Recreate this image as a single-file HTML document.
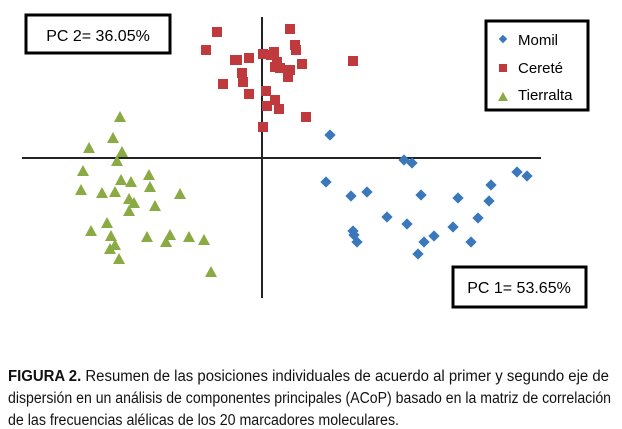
<!DOCTYPE html>
<html><head><meta charset="utf-8"><style>
body{margin:0;background:#fff;}
svg{display:block;font-family:"Liberation Sans",sans-serif;}
</style></head><body>
<svg id="chart" width="622" height="429" viewBox="0 0 622 429">
<line x1="22" y1="158" x2="541" y2="158" stroke="#222" stroke-width="2"/>
<line x1="262" y1="17" x2="262" y2="298" stroke="#222" stroke-width="2"/>
<g id="points"></g>
<g>
<rect x="26" y="15" width="144" height="38" fill="#fff" stroke="#000" stroke-width="3"/>
<text x="98" y="41" font-size="16" text-anchor="middle">PC 2= 36.05%</text></g>
<g>
<rect x="453" y="267" width="133" height="40" fill="#fff" stroke="#000" stroke-width="3"/>
<text x="519" y="293" font-size="16" text-anchor="middle">PC 1= 53.65%</text></g>
<g>
<rect x="486" y="21" width="102" height="89" fill="#fff" stroke="#000" stroke-width="3"/>
<g><rect x="500" y="36" width="6" height="6" fill="#3a78bb" transform="rotate(45 503 39)"/><text x="518" y="45" font-size="15">Momil</text></g>
<g><rect x="499" y="64" width="8" height="8" fill="#c0393d"/><text x="518" y="73" font-size="15">Cereté</text></g>
<g><polygon points="503,92 498,101 508,101" fill="#8aaa44"/><text x="518" y="100" font-size="15">Tierralta</text></g>
</g>
<g font-size="15.5" fill="#111">
<text x="8" y="381" textLength="601" lengthAdjust="spacingAndGlyphs"><tspan font-weight="bold">FIGURA 2.</tspan> Resumen de las posiciones individuales de acuerdo al primer y segundo eje de</text>
<text x="8" y="403" textLength="603" lengthAdjust="spacingAndGlyphs">dispersión en un análisis de componentes principales (ACoP) basado en la matriz de correlación</text>
<text x="8" y="425" textLength="391" lengthAdjust="spacingAndGlyphs">de las frecuencias alélicas de los 20 marcadores moleculares.</text>
</g>
</svg>
<script>
const momilX=[0.68,1.42,1.50,0.64,0.89,1.05,1.59,1.96,2.29,2.27,2.55,2.65,1.25,1.45,1.91,2.16,0.91,0.92,0.95,1.72,1.62,2.09,1.56];
const momilY=[0.23,-0.02,-0.05,-0.24,-0.38,-0.34,-0.37,-0.40,-0.27,-0.43,-0.14,-0.18,-0.59,-0.66,-0.69,-0.60,-0.73,-0.77,-0.84,-0.78,-0.84,-0.84,-0.96];
const cereteX=[-0.45,0.28,-0.56,0.33,0.34,-0.25,-0.13,0.01,0.12,0.15,0.40,0.91,-0.20,0.18,0.28,0.26,0.13,-0.19,-0.39,-0.13,0.04,0.13,0.05,0.17,0.44,0.01,0.09,-0.27];
const cereteY=[1.26,1.29,1.08,1.13,1.08,0.98,1.00,1.04,1.06,0.96,0.94,0.97,0.85,0.90,0.88,0.81,0.91,0.76,0.74,0.64,0.67,0.58,0.52,0.49,0.41,0.31,1.03,0.98];
const tierrX=[-1.42,-1.49,-1.73,-1.40,-1.45,-1.79,-1.41,-1.31,-1.13,-1.81,-1.60,-1.47,-1.12,-0.82,-1.33,-1.28,-1.07,-1.33,-1.55,-1.71,-1.51,-1.47,-1.52,-1.43,-1.15,-0.92,-0.96,-0.73,-0.58,-0.51];
const tierrY=[0.41,0.20,0.10,0.06,-0.03,-0.13,-0.22,-0.24,-0.17,-0.32,-0.35,-0.34,-0.29,-0.36,-0.41,-0.45,-0.48,-0.53,-0.65,-0.73,-0.78,-0.87,-0.91,-1.01,-0.79,-0.77,-0.84,-0.79,-0.82,-1.14];
function sx(v){return 262+v*100;}
function sy(v){return 158-v*100;}
const ns="http://www.w3.org/2000/svg";
const g=document.getElementById('points');
momilX.forEach((x,i)=>{const r=document.createElementNS(ns,'rect');const cx=sx(x),cy=sy(momilY[i]);
r.setAttribute('x',cx-4);r.setAttribute('y',cy-4);r.setAttribute('width',8);r.setAttribute('height',8);
r.setAttribute('fill','#3a78bb');r.setAttribute('transform','rotate(45 '+cx+' '+cy+')');


g.appendChild(r);});
cereteX.forEach((x,i)=>{const r=document.createElementNS(ns,'rect');const cx=sx(x),cy=sy(cereteY[i]);
r.setAttribute('x',cx-5);r.setAttribute('y',cy-5);r.setAttribute('width',10);r.setAttribute('height',10);
r.setAttribute('fill','#c0393d');


g.appendChild(r);});
tierrX.forEach((x,i)=>{const p=document.createElementNS(ns,'polygon');const cx=sx(x),cy=sy(tierrY[i]);
p.setAttribute('points',cx+','+(cy-6)+' '+(cx-6)+','+(cy+5)+' '+(cx+6)+','+(cy+5));
p.setAttribute('fill','#8aaa44');


g.appendChild(p);});
</script>
</body></html>
